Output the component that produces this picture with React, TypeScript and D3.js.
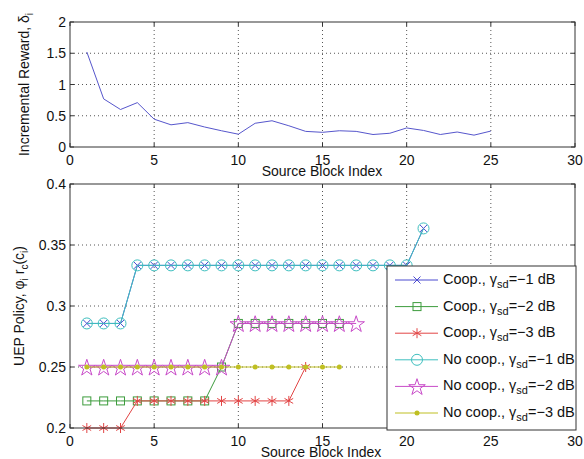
import React from 'react';
import * as d3 from 'd3';

// top panel: incremental reward per source block
const blockIdx = [1, 2, 3, 4, 5, 6, 7, 8, 9, 10, 11, 12, 13, 14, 15, 16, 17, 18, 19, 20, 21, 22, 23, 24, 25];
const reward = [1.52, 0.77, 0.6, 0.71, 0.445, 0.355, 0.39, 0.32, 0.26, 0.205, 0.38, 0.42, 0.34, 0.25, 0.235, 0.26, 0.25, 0.2, 0.22, 0.305, 0.265, 0.2, 0.24, 0.19, 0.255];

// bottom panel: UEP policy
const coop1 = [0.2857, 0.2857, 0.2857, 0.3333, 0.3333, 0.3333, 0.3333, 0.3333, 0.3333, 0.3333, 0.3333, 0.3333, 0.3333, 0.3333, 0.3333, 0.3333, 0.3333, 0.3333, 0.3333, 0.3333, 0.3636];
const coop2 = [0.2222, 0.2222, 0.2222, 0.2222, 0.2222, 0.2222, 0.2222, 0.2222, 0.25, 0.2857, 0.2857, 0.2857, 0.2857, 0.2857, 0.2857, 0.2857];
const coop3 = [0.2, 0.2, 0.2, 0.2222, 0.2222, 0.2222, 0.2222, 0.2222, 0.2222, 0.2222, 0.2222, 0.2222, 0.2222, 0.25];
const nocoop1 = [0.2857, 0.2857, 0.2857, 0.3333, 0.3333, 0.3333, 0.3333, 0.3333, 0.3333, 0.3333, 0.3333, 0.3333, 0.3333, 0.3333, 0.3333, 0.3333, 0.3333, 0.3333, 0.3333, 0.3333, 0.3636];
const nocoop2 = [0.25, 0.25, 0.25, 0.25, 0.25, 0.25, 0.25, 0.25, 0.25, 0.2857, 0.2857, 0.2857, 0.2857, 0.2857, 0.2857, 0.2857, 0.2857];
const nocoop3 = [0.25, 0.25, 0.25, 0.25, 0.25, 0.25, 0.25, 0.25, 0.25, 0.25, 0.25, 0.25, 0.25, 0.25, 0.25, 0.25];

const xTicks = [0, 5, 10, 15, 20, 25, 30];
const topYTicks = [0, 0.5, 1, 1.5, 2];
const botYTicks = [0.2, 0.25, 0.3, 0.35, 0.4];

const series = [
  { prefix: 'Coop., ', db: '−1', values: coop1, color: '#4b4bd0', marker: 'x' },
  { prefix: 'Coop., ', db: '−2', values: coop2, color: '#3d9c3d', marker: 'square' },
  { prefix: 'Coop., ', db: '−3', values: coop3, color: '#e24444', marker: 'asterisk' },
  { prefix: 'No coop., ', db: '−1', values: nocoop1, color: '#3fbfbf', marker: 'circle' },
  { prefix: 'No coop., ', db: '−2', values: nocoop2, color: '#c84ac8', marker: 'star' },
  { prefix: 'No coop., ', db: '−3', values: nocoop3, color: '#bfbf22', marker: 'dot' },
];

const font = '"Liberation Sans", Arial, sans-serif';
const axisColor = '#333';

const starPath = d3.symbol(d3.symbolStar, 85)();

function Marker({ type, x, y, color }) {
  if (type === 'x') {
    const s = 3.5;
    return <path d={`M${x - s},${y - s}L${x + s},${y + s}M${x - s},${y + s}L${x + s},${y - s}`} stroke={color} fill="none" />;
  }
  if (type === 'square') {
    return <rect x={x - 4} y={y - 4} width={8} height={8} stroke={color} fill="none" />;
  }
  if (type === 'asterisk') {
    const s = 5;
    const a = s * Math.cos(Math.PI / 6);
    const b = s * Math.sin(Math.PI / 6);
    return (
      <path
        d={`M${x},${y - s}L${x},${y + s}M${x - a},${y - b}L${x + a},${y + b}M${x - a},${y + b}L${x + a},${y - b}`}
        stroke={color}
        fill="none"
      />
    );
  }
  if (type === 'circle') {
    return <circle cx={x} cy={y} r={5.5} stroke={color} fill="none" />;
  }
  if (type === 'star') {
    return <path d={starPath} transform={`translate(${x},${y + 1})`} stroke={color} fill="none" />;
  }
  return <circle cx={x} cy={y} r={2.5} fill={color} />;
}

function Grid({ x, y, yTicks }) {
  const [x0, x1] = x.range();
  const [y0, y1] = y.range();
  return (
    <g>
      {xTicks.slice(1, -1).map((t) => (
        <line key={'gx' + t} x1={x(t)} x2={x(t)} y1={y0} y2={y1} stroke="#555" strokeDasharray="1,3" />
      ))}
      {yTicks.slice(1, -1).map((t) => (
        <line key={'gy' + t} x1={x0} x2={x1} y1={y(t)} y2={y(t)} stroke="#555" strokeDasharray="1,3" />
      ))}
    </g>
  );
}

function Frame({ x, y, yTicks }) {
  const [x0, x1] = x.range();
  const [y0, y1] = y.range();
  return (
    <g fontFamily={font} fontSize={14} fill="#111">
      <rect x={x0} y={y1} width={x1 - x0} height={y0 - y1} fill="none" stroke={axisColor} />
      {xTicks.map((t) => (
        <g key={'tx' + t}>
          <line x1={x(t)} x2={x(t)} y1={y0} y2={y0 - 4} stroke={axisColor} />
          <line x1={x(t)} x2={x(t)} y1={y1} y2={y1 + 4} stroke={axisColor} />
          <text x={x(t)} y={y0 + 18} textAnchor="middle">{t}</text>
        </g>
      ))}
      {yTicks.map((t) => (
        <g key={'ty' + t}>
          <line x1={x0} x2={x0 + 4} y1={y(t)} y2={y(t)} stroke={axisColor} />
          <line x1={x1} x2={x1 - 4} y1={y(t)} y2={y(t)} stroke={axisColor} />
          <text x={x0 - 4} y={y(t) + 5} textAnchor="end">{String(t)}</text>
        </g>
      ))}
    </g>
  );
}

export default function App() {
  const W = 584;
  const H = 459;

  const xTop = d3.scaleLinear().domain([0, 30]).range([70, 575]);
  const yTop = d3.scaleLinear().domain([0, 2]).range([147, 22]);
  const xBot = d3.scaleLinear().domain([0, 30]).range([70, 575]);
  const yBot = d3.scaleLinear().domain([0.2, 0.4]).range([428, 184]);

  const topLine = d3.line<number>().x((d, i) => xTop(blockIdx[i])).y((d) => yTop(d));
  const botLine = d3.line<number>().x((d, i) => xBot(blockIdx[i])).y((d) => yBot(d));

  const legX = 387;
  const legY = 266;
  const legW = 189;
  const legH = 164;
  const rowH = 26.6;

  return (
    <svg width={W} height={H} style={{ position: 'absolute', left: 0, top: 0, background: '#fff' }}>
      <rect width={W} height={H} fill="#fff" />

      {/* top panel */}
      <Grid x={xTop} y={yTop} yTicks={topYTicks} />
      <path d={topLine(reward) || ''} fill="none" stroke="#5656cc" strokeWidth={1} />
      <Frame x={xTop} y={yTop} yTicks={topYTicks} />
      <text x={322} y={176} textAnchor="middle" fontFamily={font} fontSize={14} fill="#111">
        Source Block Index
      </text>
      <text
        transform={`translate(29,${(22 + 147) / 2}) rotate(-90)`}
        textAnchor="middle"
        fontFamily={font}
        fontSize={14}
        fill="#111"
      >
        Incremental Reward, δ<tspan fontSize={10} dy={4}>i</tspan>
      </text>

      {/* bottom panel */}
      <Grid x={xBot} y={yBot} yTicks={botYTicks} />
      {series.map((s, si) => (
        <g key={'s' + si}>
          <path d={botLine(s.values) || ''} fill="none" stroke={s.color} strokeWidth={1} />
          {s.values.map((v, i) => (
            <Marker key={i} type={s.marker} x={xBot(blockIdx[i])} y={yBot(v)} color={s.color} />
          ))}
        </g>
      ))}
      <Frame x={xBot} y={yBot} yTicks={botYTicks} />
      <text x={321} y={457} textAnchor="middle" fontFamily={font} fontSize={14} fill="#111">
        Source Block Index
      </text>
      <text
        transform={`translate(24,${(184 + 428) / 2}) rotate(-90)`}
        textAnchor="middle"
        fontFamily={font}
        fontSize={14}
        fill="#111"
      >
        UEP Policy, φ<tspan fontSize={10} dy={4}>i</tspan>
        <tspan dy={-4}> r</tspan>
        <tspan fontSize={10} dy={4}>c</tspan>
        <tspan dy={-4}>(c</tspan>
        <tspan fontSize={10} dy={4}>i</tspan>
        <tspan dy={-4}>)</tspan>
      </text>

      {/* legend */}
      <g fontFamily={font} fontSize={14.5} fill="#111">
        <rect x={legX} y={legY} width={legW} height={legH} fill="#fff" stroke={axisColor} />
        {series.map((s, i) => {
          const cy = legY + 14 + i * rowH;
          return (
            <g key={'l' + i}>
              <line x1={legX + 8} x2={legX + 51} y1={cy} y2={cy} stroke={s.color} />
              <Marker type={s.marker} x={legX + 30} y={cy} color={s.color} />
              <text x={legX + 56} y={cy + 4}>
                {s.prefix}γ<tspan fontSize={11} dy={4}>sd</tspan>
                <tspan dy={-4}>={s.db} dB</tspan>
              </text>
            </g>
          );
        })}
      </g>
    </svg>
  );
}
